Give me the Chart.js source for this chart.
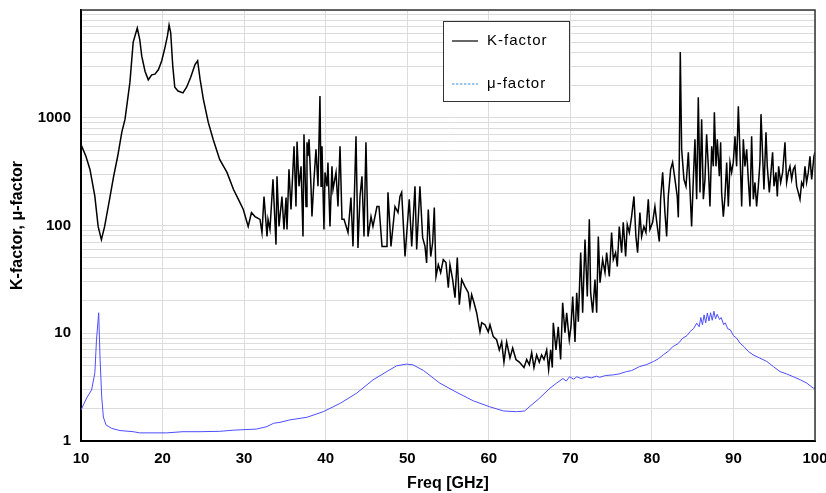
<!DOCTYPE html>
<html>
<head>
<meta charset="utf-8">
<script src="https://cdn.jsdelivr.net/npm/chart.js@4/dist/chart.umd.min.js"></script>
<style>
  body { margin: 0; background: #fff; }
  #wrap { width: 826px; height: 493px; }
</style>
</head>
<body>
<div id="wrap"><canvas id="myChart"></canvas></div>
<script>
// K-factor (GHz, linear value)
const kFreq = [
  10.0, 10.6, 11.1, 11.7, 12.1, 12.5, 12.9, 13.5, 14.0, 14.5, 15.0, 15.4, 16.0, 16.4, 16.9, 17.2, 17.45, 17.85,
  18.25, 18.67, 19.07, 19.5, 19.9, 20.3, 20.6, 20.8, 21.0, 21.25, 21.5, 21.9, 22.5, 22.95, 23.45, 23.98, 24.3,
  24.6, 25.0, 25.6, 26.2, 27.0, 27.9, 28.7, 29.3, 29.9, 30.5, 30.9,
  31.33, 31.95, 32.19, 32.44, 32.81, 32.93, 33.17, 33.54, 33.91, 34.03, 34.28, 34.64, 34.89, 35.14, 35.26, 35.50,
  35.75, 36.12, 36.36, 36.49, 36.73, 36.98, 37.22, 37.34, 37.59, 37.71, 37.83, 37.96, 38.20, 38.32, 38.57, 38.81,
  39.06, 39.30, 39.43, 39.55, 39.79, 39.92, 40.16, 40.28, 40.53, 40.77, 40.90, 41.27, 41.51, 41.76, 42.00, 42.25,
  42.74, 43.10, 43.35, 43.72, 43.96, 44.21, 44.45, 44.70, 44.94, 45.19, 45.56, 45.80, 46.29, 46.54, 46.91, 47.52,
  47.64, 48.01, 48.50, 48.87, 49.11, 49.32, 49.73, 50.25, 50.55, 50.95, 51.16, 51.56, 51.89, 52.18, 52.38, 52.58,
  52.88, 53.12, 53.32, 53.53, 53.81, 54.10, 54.42, 54.75, 55.04, 55.24, 55.57, 55.86, 56.14, 56.39, 56.68, 57.08,
  57.49, 57.70, 57.90, 58.19, 58.51, 58.92, 59.13, 59.53, 59.94, 60.15, 60.55, 60.96, 61.29, 61.58, 61.86, 62.19,
  62.60, 62.93, 63.33, 63.74, 64.03, 64.32, 64.65, 64.97, 65.26, 65.54, 65.87, 66.19, 66.48, 66.77, 67.10, 67.34,
  67.59, 67.79, 67.91, 68.24, 68.52, 68.81, 69.06, 69.34, 69.55, 69.87, 70.08, 70.29, 70.57, 70.78, 70.98, 71.27,
  71.51, 71.80, 72.08, 72.33, 72.49, 72.74, 73.02, 73.23, 73.43, 73.64, 73.96, 74.25, 74.45, 74.78, 75.06, 75.27,
  75.55, 75.76, 76.00, 76.29, 76.49, 76.78, 76.98, 77.23, 77.51, 77.80, 78.04, 78.25, 78.53, 78.74, 79.02, 79.27,
  79.56, 79.76, 80.09, 80.37, 80.66, 80.91, 81.07, 81.32, 81.60, 81.81, 82.01, 82.30, 82.54, 82.83, 83.11, 83.24,
  83.36, 83.48, 83.65, 83.93, 84.18, 84.47, 84.87, 85.08, 85.28, 85.49, 85.69, 85.90, 86.10, 86.31, 86.51, 86.71,
  86.92, 87.12, 87.33, 87.53, 87.66, 87.86, 88.02, 88.27, 88.43, 88.55, 88.76, 88.96, 89.17, 89.37, 89.58, 89.78,
  89.98, 90.19, 90.39, 90.60, 90.80, 91.01, 91.21, 91.41, 91.62, 91.82, 92.03, 92.23, 92.44, 92.64, 92.84, 93.05,
  93.25, 93.38, 93.58, 93.74, 93.99, 94.15, 94.40, 94.60, 94.80, 94.97, 95.21, 95.38, 95.54, 95.79, 96.03, 96.32,
  96.52, 96.73, 96.93, 97.14, 97.34, 97.54, 97.75, 97.95, 98.16, 98.36, 98.57, 98.77, 98.97, 99.18, 99.38, 99.59,
  99.87, 100.0
];
const kFactor = [
  565, 440, 331, 186, 98, 74, 98, 175, 286, 439, 733, 970, 2140, 5040, 6800, 5350, 3730, 2700,
  2250, 2500, 2540, 2800, 3380, 4500, 5750, 7250, 6150, 3030, 1920, 1770, 1700, 1920, 2380, 3120, 3380,
  2280, 1490, 910, 631, 411, 311, 216, 175, 141, 98, 132,
  121, 114, 86, 186, 79, 114, 92, 268, 66.5, 286, 98, 186, 92, 182, 92, 332,
  141, 543, 150, 600, 231, 354, 79, 703, 150, 592, 439, 631, 231, 121, 268, 509,
  231, 1590, 231, 543, 92, 311, 231, 385, 98, 354, 216, 311, 150, 543, 114, 114,
  86, 182, 64, 673, 62, 186, 286, 79, 592, 79, 121, 98, 150, 150, 64, 64,
  203, 64, 150, 132, 186, 203, 51.5, 175, 64, 231, 60, 231, 77, 64, 45, 141,
  51.5, 69.5, 147, 33.6, 43.4, 36.6, 48.3, 45.3, 26.5, 43.4, 31.5, 21.4, 50.4, 18.4, 31.5, 27.1,
  23.8, 17.6, 22.8, 19.2, 15.5, 10.3, 12.5, 12.0, 10.3, 12.0, 9.3, 8.7, 7.0, 8.3, 5.4, 8.3,
  5.9, 7.3, 5.7, 5.4, 5.1, 4.8, 5.7, 5.1, 6.6, 4.8, 6.3, 5.4, 6.3, 5.7, 7.0, 4.6,
  7.0, 4.8, 12.5, 7.0, 11.5, 5.7, 19.2, 10.1, 15.5, 8.7, 11.5, 21.9, 8.3, 23.8, 12.8, 56,
  15.5, 74, 21.9, 114, 23.8, 15.5, 31.5, 15.5, 79, 29.5, 48.3, 36.6, 56, 33.6, 86, 48.3,
  56, 41.6, 98, 56, 107, 51.5, 102, 86, 121, 186, 79, 56, 132, 79, 98, 86,
  175, 92, 107, 150, 98, 71, 175, 311, 132, 79, 186, 332, 385, 268, 186, 119,
  411, 4070, 509, 268, 231, 478, 98, 268, 631, 175, 1550, 203, 970, 175, 268, 703,
  354, 150, 543, 354, 1125, 354, 631, 286, 592, 203, 121, 186, 385, 150, 385, 311,
  385, 673, 354, 1280, 478, 150, 631, 354, 509, 268, 150, 673, 175, 251, 150, 231,
  385, 1080, 439, 216, 733, 354, 203, 311, 478, 231, 311, 186, 354, 251, 311, 592,
  251, 311, 354, 268, 332, 354, 231, 203, 175, 251, 231, 354, 251, 311, 439, 268,
  439, 478
];

// μ-factor
const muFreq = [
  10.0, 10.7, 11.3, 11.7, 11.9, 12.17, 12.33, 12.54, 12.74, 13.07, 13.76, 14.78, 16.4, 17.2, 20.5, 22.5, 24.6,
  27.0, 28.7, 29.5, 31.5, 32.8, 33.6, 34.4, 35.6, 37.7, 39.7, 41.8, 43.8, 45.8, 47.5, 48.7, 49.9, 50.7, 52.0,
  54.0, 56.1, 58.1, 60.1, 61.8, 63.4, 64.4, 65.05, 66.1, 67.5, 68.3, 69.1, 69.5, 69.9, 70.4, 70.8, 71.3, 72.0,
  72.6, 73.2, 73.6, 74.3, 75.3, 76.0, 76.9, 77.5, 78.5, 79.3, 80.2, 80.8, 81.4, 82.0, 82.6, 83.2, 83.8, 84.3,
  84.7, 85.1, 85.5, 85.8, 86.0, 86.2, 86.4, 86.6, 86.8, 87.0, 87.2, 87.4, 87.6, 87.8, 88.0, 88.3, 88.5, 88.8,
  89.0, 89.3, 89.6, 90.0, 90.4, 90.8, 91.3, 91.8, 92.4, 93.2, 94.1, 94.9, 95.7, 96.5, 97.3, 98.2, 99.0, 99.8, 100.0
];
const muFactor = [
  1.94, 2.51, 2.98, 4.3, 8.7, 15.5, 6.0, 2.57, 1.67, 1.41, 1.31, 1.25, 1.22, 1.19, 1.19, 1.22, 1.22,
  1.23, 1.26, 1.27, 1.29, 1.36, 1.46, 1.49, 1.57, 1.66, 1.87, 2.24, 2.78, 3.69, 4.41, 4.99, 5.17, 5.09, 4.51,
  3.44, 2.82, 2.36, 2.08, 1.90, 1.87, 1.90, 2.1, 2.45, 3.09, 3.44, 3.8, 3.6, 3.95, 3.75, 3.95, 3.8, 3.95,
  3.85, 4.0, 3.9, 4.05, 4.11, 4.2, 4.41, 4.5, 4.91, 5.1, 5.47, 5.8, 6.31, 6.8, 7.54, 8.0, 9.02, 9.5,
  10.4, 11.0, 12.4, 11.5, 14.0, 12.0, 14.8, 12.5, 15.4, 13.0, 15.5, 13.2, 16.0, 13.6, 15.0, 13.4, 14.0, 12.0,
  12.5, 11.0, 10.8, 9.5, 9.0, 8.1, 7.5, 6.8, 6.31, 5.9, 5.47, 4.9, 4.41, 4.2, 3.96, 3.7, 3.44, 3.09, 3.1
];

const yDecades = [1, 10, 100, 1000];
const yTickLabels = [1, 10, 100, 1000];

document.addEventListener('DOMContentLoaded', function() {
    const yGrid = [];
    yDecades.forEach(d => { for (let k = 1; k <= 9; k++) yGrid.push(d * k); });
    yGrid.push(10000);

    // framed legend box inside the plot + outer frame
    const boxLegend = {
        id: 'boxLegend',
        afterDraw(chart) {
            const ctx = chart.ctx;
            const a = chart.chartArea;
            ctx.save();
            // top / right frame
            ctx.strokeStyle = '#333';
            ctx.lineWidth = 1.5;
            ctx.beginPath();
            ctx.moveTo(a.left, a.top);
            ctx.lineTo(a.right, a.top);
            ctx.lineTo(a.right, a.bottom);
            ctx.stroke();

            const bx = a.left + 362, by = a.top + 11, bw = 126, bh = 80;
            ctx.fillStyle = '#fff';
            ctx.fillRect(bx, by, bw, bh);
            ctx.strokeStyle = '#333';
            ctx.lineWidth = 1;
            ctx.strokeRect(bx + 0.5, by + 0.5, bw, bh);

            ctx.font = '15px "Liberation Sans", Arial, sans-serif';
            ctx.letterSpacing = '1px';
            ctx.textBaseline = 'middle';
            ctx.fillStyle = '#000';
            // K-factor
            ctx.strokeStyle = '#000';
            ctx.lineWidth = 1.2;
            ctx.beginPath();
            ctx.moveTo(bx + 9, by + 20);
            ctx.lineTo(bx + 35, by + 20);
            ctx.stroke();
            ctx.fillText('K-factor', bx + 44, by + 20);
            // mu-factor
            ctx.strokeStyle = '#3b8fdc';
            ctx.setLineDash([2.5, 1.5]);
            ctx.beginPath();
            ctx.moveTo(bx + 9, by + 63);
            ctx.lineTo(bx + 35, by + 63);
            ctx.stroke();
            ctx.setLineDash([]);
            ctx.fillText('μ-factor', bx + 44, by + 63);
            ctx.restore();
        }
    };

    const data = {
        datasets: [{
            label: 'K-factor',
            data: kFreq.map((f, i) => ({ x: f, y: kFactor[i] })),
            borderColor: '#000',
            borderWidth: 1.5,
            pointRadius: 0,
            tension: 0
        }, {
            label: 'μ-factor',
            data: muFreq.map((f, i) => ({ x: f, y: muFactor[i] })),
            borderColor: '#4d4dff',
            borderWidth: 1,
            pointRadius: 0,
            tension: 0
        }]
    };

    const tickFont = { family: '"Liberation Sans", Arial, sans-serif', size: 15, weight: 'bold' };

    const config = {
        type: 'line',
        data: data,
        options: {
            responsive: true,
            maintainAspectRatio: false,
            animation: false,
            layout: { padding: { top: 10, right: 11, left: 0, bottom: 0 } },
            plugins: {
                legend: { display: false },
                tooltip: { enabled: false }
            },
            scales: {
                x: {
                    type: 'linear',
                    min: 10,
                    max: 100,
                    ticks: { stepSize: 10, color: '#000', font: tickFont, padding: 9 },
                    grid: { color: '#dcdcdc', drawTicks: false },
                    border: { color: '#000', width: 2 },
                    title: {
                        display: true,
                        text: 'Freq [GHz]',
                        color: '#000',
                        font: { family: '"Liberation Sans", Arial, sans-serif', size: 16, weight: 'bold' },
                        padding: { top: 0, bottom: 0 }
                    },
                    afterFit: s => { s.height = 52; s.paddingLeft = 0; s.paddingRight = 0; }
                },
                y: {
                    type: 'logarithmic',
                    min: 1,
                    max: 10000,
                    afterBuildTicks: s => { s.ticks = yGrid.map(v => ({ value: v })); },
                    ticks: {
                        autoSkip: false,
                        color: '#000',
                        font: tickFont,
                        padding: 10,
                        callback: v => yTickLabels.includes(v) ? String(v) : ''
                    },
                    grid: { color: '#dcdcdc', drawTicks: false },
                    border: { color: '#000', width: 2 },
                    title: {
                        display: true,
                        text: 'K-factor, μ-factor',
                        color: '#000',
                        font: { family: '"Liberation Sans", Arial, sans-serif', size: 16, weight: 'bold' },
                        padding: { top: 8, bottom: 0 }
                    },
                    afterFit: s => { s.width = 81; s.paddingTop = 0; s.paddingBottom = 0; }
                }
            }
        },
        plugins: [boxLegend]
    };

    const ctx = document.getElementById('myChart').getContext('2d');
    new Chart(ctx, config);
});
</script>
</body>
</html>
